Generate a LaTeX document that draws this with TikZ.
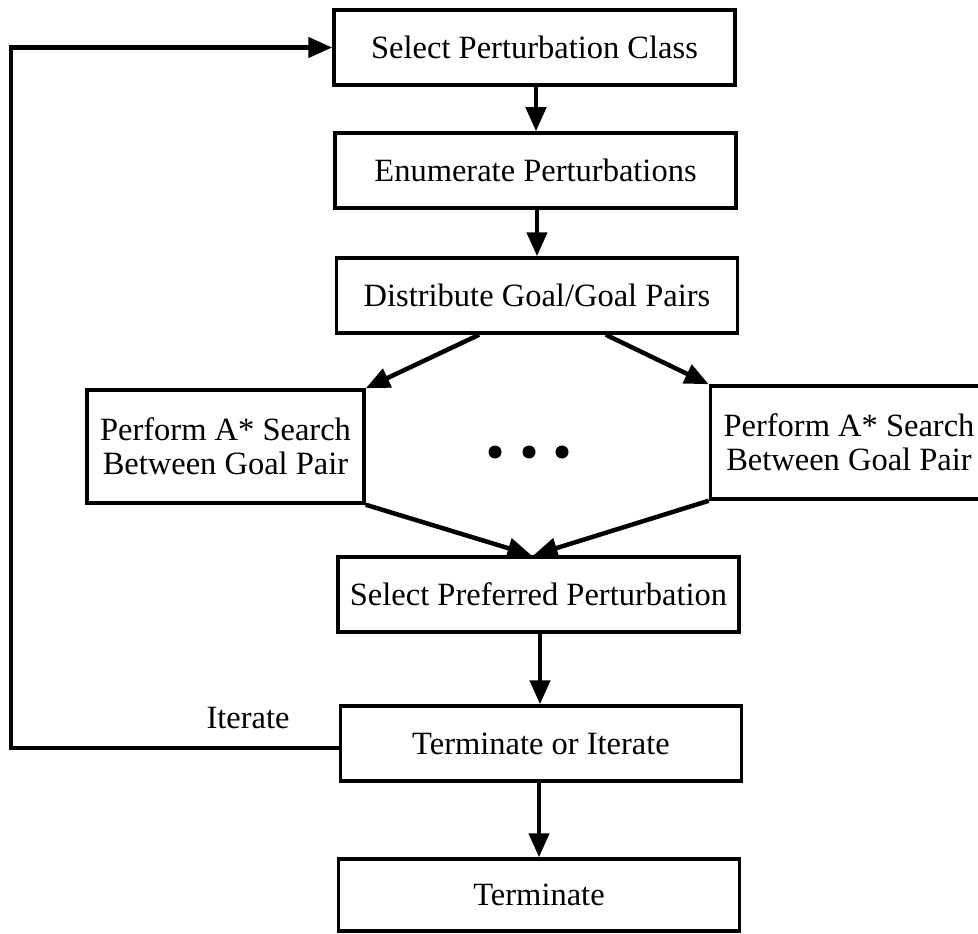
\documentclass[tikz,border=0pt]{standalone}
\usepackage{fontspec}
\setmainfont{Liberation Serif}
\usetikzlibrary{arrows.meta,calc}
\begin{document}
\begin{tikzpicture}[x=1pt,y=-1pt,
  label font/.style={font=\fontsize{32.5}{34}\selectfont},
  stepbox/.style={draw, line width=3.5pt, minimum width=401pt, minimum height=75pt,
    inner sep=0pt, label font, align=center},
  searchbox/.style={stepbox, minimum width=277pt, minimum height=113pt},
  flow/.style={line width=4.5pt, -{Triangle[length=24pt,width=20pt]}},
  dot/.style={fill=black, circle, minimum size=13pt, inner sep=0pt}]
\useasboundingbox (0,0) rectangle (978,934);

% main column of steps
\node[stepbox] (sel)  at (534.5,47.5)  {Select Perturbation Class};
\node[stepbox] (enu)  at (535.5,170.5) {Enumerate Perturbations};
\node[stepbox] (dist) at (537,295.5)   {Distribute Goal/Goal Pairs};
\node[searchbox] (left)  at (225.5,446.5) {Perform A* Search\\Between Goal Pair};
\node[searchbox] (right) at (849,442.5)   {Perform A* Search\\Between Goal Pair};
\node[stepbox] (pref) at (538.5,594.5) {Select Preferred Perturbation};
\node[stepbox] (tori) at (541,743.5)   {Terminate or Iterate};
\node[stepbox, minimum height=72pt] (term) at (539,895) {Terminate};

% elided parallel searches
\node[dot] (d1) at (495,452) {};
\node[dot] (d2) at (529,452) {};
\node[dot] (d3) at (562,452) {};

% connectors
\draw[flow] (sel.south -| 536,0) -- (enu.north -| 536,0);
\draw[flow] (enu.south -| 537,0) -- (dist.north -| 537,0);
\draw[flow] ($(dist.south west)!0.357!(dist.south east)$) -- (left.north east);
\draw[flow] ($(dist.south west)!0.67!(dist.south east)$) -- (right.north west);
\draw[flow] (left.south east) -- ($(pref.north)+(-7,0)$);
\draw[flow] (right.south west) -- ($(pref.north)+(-5,0)$);
\draw[flow] (pref.south -| 540,0) -- (tori.north -| 540,0);
\draw[flow] (tori.south -| 539,0) -- (term.north -| 539,0);

% feedback loop
\coordinate (loop) at (11,748);
\draw[flow] (tori.west |- loop) -- (loop) |- (sel.west);
\node[label font] (iter) at (248,718) {Iterate};
\end{tikzpicture}
\end{document}
